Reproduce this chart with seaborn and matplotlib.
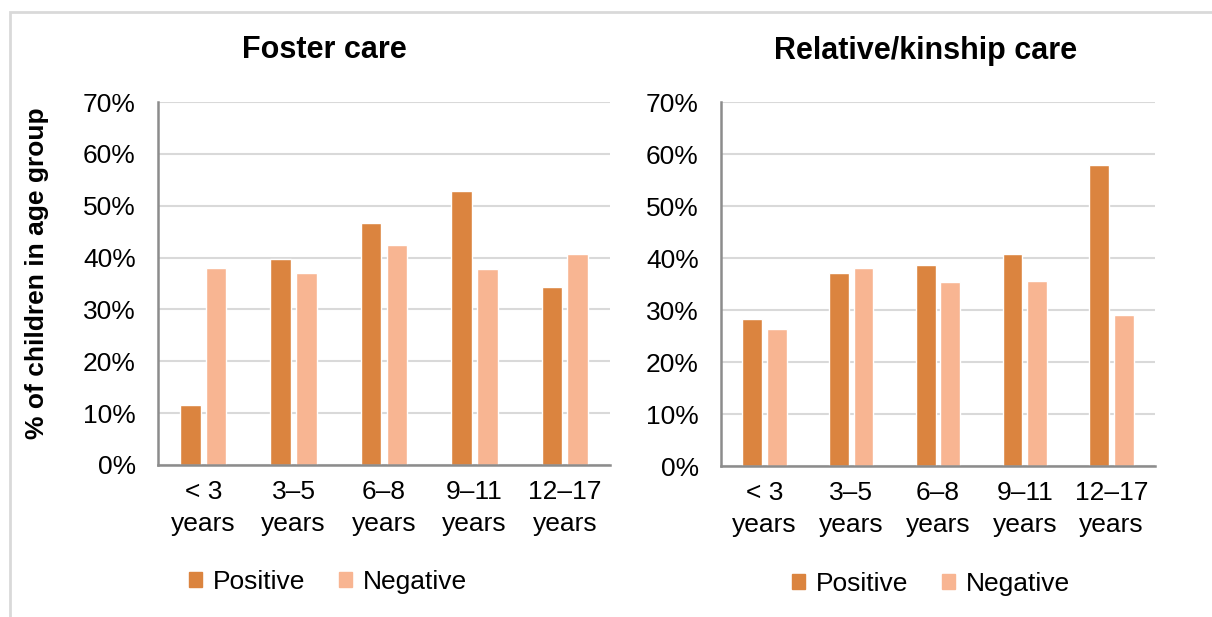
import numpy as np
import pandas as pd
import matplotlib.pyplot as plt
import matplotlib.patches as mpatches
import seaborn as sns
from matplotlib.ticker import PercentFormatter

# Data (% of children in age group)
age_groups = ['< 3\nyears', '3–5\nyears', '6–8\nyears', '9–11\nyears', '12–17\nyears']
foster_positive = [11.5, 39.8, 46.7, 52.8, 34.3]
foster_negative = [38.0, 37.1, 42.4, 37.7, 40.6]
kin_positive = [28.3, 37.1, 38.7, 40.7, 57.9]
kin_negative = [26.3, 38.1, 35.3, 35.5, 29.0]
panel_titles = ['Foster care', 'Relative/kinship care']
series_names = ['Positive', 'Negative']
ylabel = '% of children in age group'

colors = {'Positive': '#DB843F', 'Negative': '#F8B592'}


def to_long(pos, neg):
    return pd.DataFrame({
        'age': age_groups * 2,
        'pct': pos + neg,
        'type': ['Positive'] * len(pos) + ['Negative'] * len(neg),
    })


sns.set_style('white')
plt.rcParams['font.family'] = ['Liberation Sans', 'DejaVu Sans']
plt.rcParams['text.color'] = 'black'

fig = plt.figure(figsize=(12.12, 6.17), dpi=100)
ax1 = fig.add_axes([158 / 1212, 1 - 465 / 617, 452 / 1212, 363 / 617])
ax2 = fig.add_axes([721 / 1212, 1 - 466 / 617, 434 / 1212, 364 / 617])

frames = [to_long(foster_positive, foster_negative), to_long(kin_positive, kin_negative)]

for ax, df in zip([ax1, ax2], frames):
    sns.barplot(data=df, x='age', y='pct', hue='type', palette=colors,
                width=0.57, gap=0.2, ax=ax, legend=False, saturation=1, zorder=3)
    ax.set_ylim(0, 70)
    ax.set_yticks(np.arange(0, 71, 10))
    ax.yaxis.set_major_formatter(PercentFormatter(decimals=0))
    ax.set_xlabel('')
    ax.set_ylabel('')
    ax.grid(axis='y', color='#D9D9D9', lw=1.5, zorder=0)
    ax.set_axisbelow(True)
    for s in ['top', 'right']:
        ax.spines[s].set_visible(False)
    for s in ['left', 'bottom']:
        ax.spines[s].set_color('#8C8C8C')
        ax.spines[s].set_linewidth(1.8)
        ax.spines[s].set_zorder(4)
    ax.tick_params(axis='both', length=0, labelsize=19, colors='black')
    ax.tick_params(axis='y', pad=16)
    ax.tick_params(axis='x', pad=11)
    for lbl in ax.get_xticklabels():
        lbl.set_linespacing(1.4)

# titles, y label
fig.text(324 / 1212, 1 - 50 / 617, panel_titles[0], ha='center', va='center',
         fontsize=22, fontweight='bold')
fig.text(926 / 1212, 1 - 51 / 617, panel_titles[1], ha='center', va='center',
         fontsize=22, fontweight='bold')
fig.text(37 / 1212, 1 - 273 / 617, ylabel, rotation=90, ha='center', va='center',
         fontsize=19, fontweight='bold')

# legends
handles = [mpatches.Patch(color=colors[n], label=n) for n in series_names]
for cx, cy in [(328, 582), (931, 584)]:
    fig.legend(handles=handles, loc='center', bbox_to_anchor=(cx / 1212, 1 - cy / 617),
               ncol=2, frameon=False, fontsize=19, handlelength=0.5, handleheight=0.5,
               handletextpad=0.4, columnspacing=1.3, borderpad=0)

# light frame around the chart area
fig.patches.append(mpatches.Rectangle((10 / 1212, -0.1), 1.5, 1.1 - 12 / 617,
                                      transform=fig.transFigure, fill=False,
                                      edgecolor='#D9D9D9', lw=2))

fig.savefig('out.png', dpi=100)
